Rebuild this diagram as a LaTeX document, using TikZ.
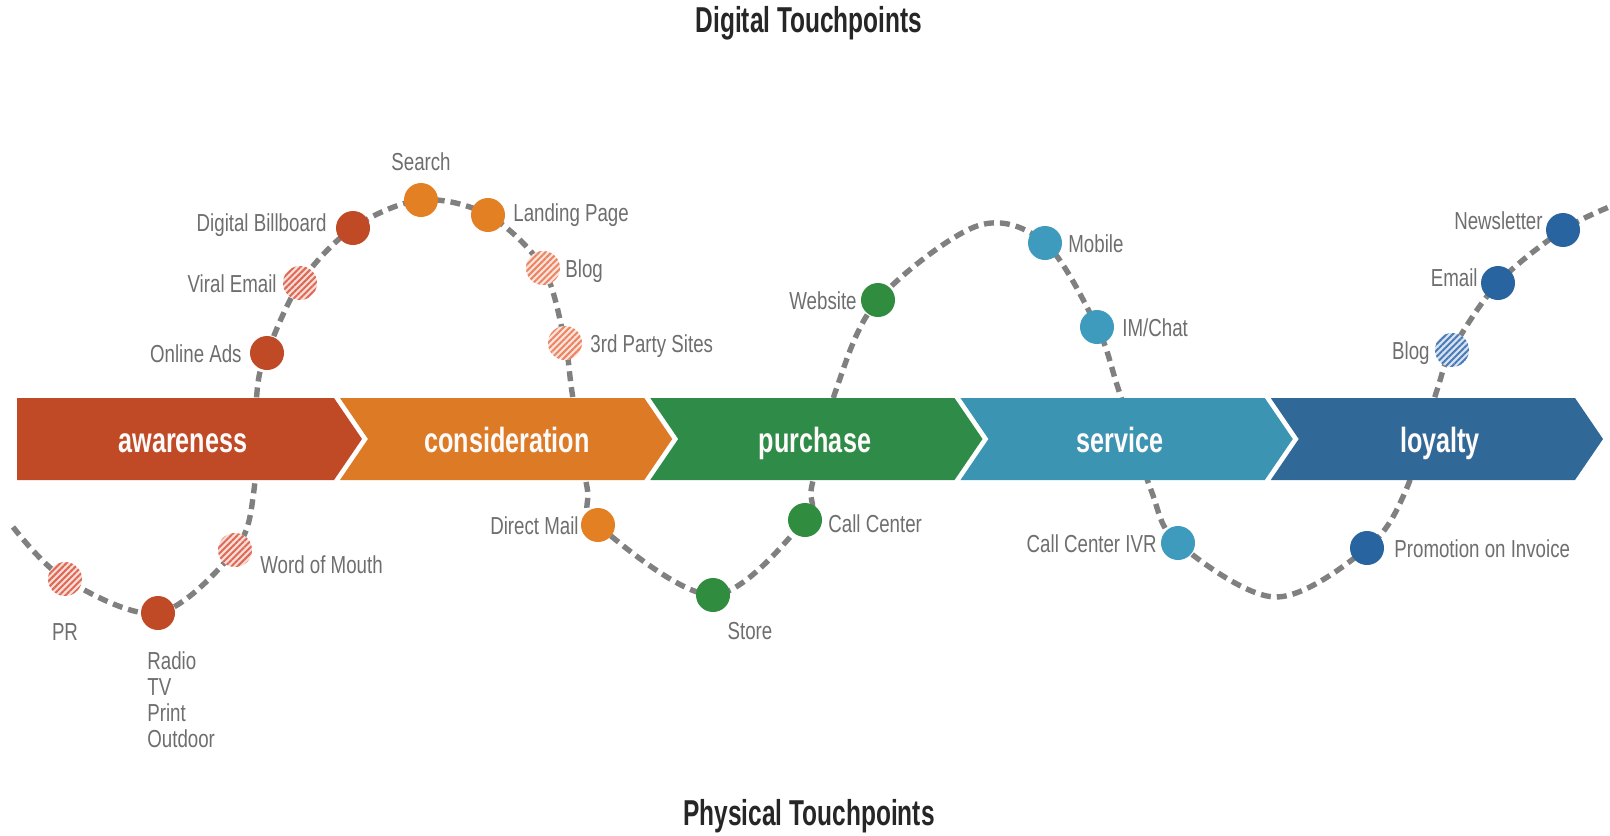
\documentclass[tikz,border=0pt]{standalone}
\usepackage{fontspec}
\setmainfont{Liberation Sans}[FakeStretch=0.76]
\newfontfamily\headfont{Liberation Sans}[FakeStretch=0.68]
\newfontfamily\stagefont{Liberation Sans}[FakeStretch=0.72]
\definecolor{Aware}{RGB}{192,74,38}
\definecolor{Consider}{RGB}{220,122,38}
\definecolor{Buy}{RGB}{46,140,72}
\definecolor{Serve}{RGB}{58,148,178}
\definecolor{Loyal}{RGB}{48,104,152}
\definecolor{DotOrange}{RGB}{228,128,36}
\definecolor{DotGreen}{RGB}{48,140,62}
\definecolor{DotTeal}{RGB}{62,155,190}
\definecolor{DotBlue}{RGB}{40,100,160}
\definecolor{HatchRed}{RGB}{222,104,84}
\definecolor{HatchOrange}{RGB}{236,132,98}
\definecolor{HatchBlue}{RGB}{72,122,184}
\definecolor{Trail}{RGB}{128,128,128}
\definecolor{Caption}{RGB}{110,110,110}
\usetikzlibrary{positioning, backgrounds, patterns.meta}

\begin{document}
\begin{tikzpicture}[x=0.5pt, y=-0.5pt,
        dot/.style={circle, fill=#1, minimum size=17pt, inner sep=0pt, outer sep=0pt},
        hatch/.style={circle, fill=#1!22, minimum size=17pt, inner sep=0pt, outer sep=0pt,
            postaction={pattern={Lines[angle=45, distance=2.2pt, line width=1pt]}, pattern color=#1}},
        caption/.style={text=Caption, font=\fontsize{12.3}{13}\selectfont, inner sep=0pt},
        lbl/.style={caption, text height=9pt, text depth=0pt},
        stage/.style={text=white!94!pink, font=\stagefont\bfseries\fontsize{17.5}{20}\selectfont, anchor=base, inner sep=0pt},
        head/.style={text=black!85, font=\headfont\bfseries\fontsize{18}{21}\selectfont},
        trail/.style={draw=Trail, line width=2.7pt, dash pattern=on 5pt off 3pt}
    ]
    \useasboundingbox (0,0) rectangle (1610,835);

    \node[head] (digital) at (809,23) {Digital Touchpoints};
    \node[head] (physical) at (809,816) {Physical Touchpoints};

    % touchpoints
    \node[hatch=HatchRed] (pr) at (65,579) {};
    \node[dot=Aware] (media) at (158,613) {};
    \node[hatch=HatchRed] (mouth) at (235,550) {};
    \node[dot=Aware] (ads) at (267,353) {};
    \node[hatch=HatchRed] (viral) at (300,283) {};
    \node[dot=Aware] (billboard) at (353,228) {};
    \node[dot=DotOrange] (search) at (421,200) {};
    \node[dot=DotOrange] (landing) at (488,215) {};
    \node[hatch=HatchOrange] (blogA) at (543,268) {};
    \node[hatch=HatchOrange] (sites) at (565,343) {};
    \node[dot=DotOrange] (mail) at (598,525) {};
    \node[dot=DotGreen] (store) at (713,595) {};
    \node[dot=DotGreen] (callc) at (805,520) {};
    \node[dot=DotGreen] (web) at (878,300) {};
    \node[dot=DotTeal] (mobile) at (1045,243) {};
    \node[dot=DotTeal] (chat) at (1097,327) {};
    \node[dot=DotTeal] (ivr) at (1178,543) {};
    \node[dot=DotBlue] (promo) at (1367,548) {};
    \node[hatch=HatchBlue] (blogB) at (1452,350) {};
    \node[dot=DotBlue] (email) at (1498,283) {};
    \node[dot=DotBlue] (news) at (1563,230) {};

    % labels
    \node[lbl, below=13pt of pr] (prL) {PR};
    \node[caption, align=left, anchor=north west] (mediaL) at (147,651) {Radio\\TV\\Print\\Outdoor};
    \node[lbl, right=4pt of mouth, yshift=-7pt] (mouthL) {Word of Mouth};
    \node[lbl, left=4pt of ads] (adsL) {Online Ads};
    \node[lbl, left=3pt of viral] (viralL) {Viral Email};
    \node[lbl, left=4.5pt of billboard, yshift=3pt] (billboardL) {Digital Billboard};
    \node[lbl, above=6pt of search] (searchL) {Search};
    \node[lbl, right=4pt of landing, yshift=1.5pt] (landingL) {Landing Page};
    \node[lbl, right=2.5pt of blogA] (blogAL) {Blog};
    \node[lbl, right=4pt of sites] (sitesL) {3rd Party Sites};
    \node[lbl, left=1pt of mail] (mailL) {Direct Mail};
    \node[lbl, below=4.5pt of store, xshift=18.5pt] (storeL) {Store};
    \node[lbl, right=3pt of callc, yshift=-1.5pt] (callcL) {Call Center};
    \node[lbl, left=2pt of web] (webL) {Website};
    \node[lbl, right=3pt of mobile] (mobileL) {Mobile};
    \node[lbl, right=4pt of chat] (chatL) {IM/Chat};
    \node[lbl, left=2pt of ivr] (ivrL) {Call Center IVR};
    \node[lbl, right=5pt of promo] (promoL) {Promotion on Invoice};
    \node[lbl, left=2.5pt of blogB] (blogBL) {Blog};
    \node[lbl, left=1.5pt of email, yshift=3pt] (emailL) {Email};
    \node[lbl, left=1.5pt of news, yshift=5pt] (newsL) {Newsletter};

    \begin{scope}[on background layer]
        % the journey line, partly hidden by the band
        \coordinate (w0) at (13,527);
        \coordinate (w1) at (254,490);
        \coordinate (w2) at (257,392);
        \coordinate (w3) at (572,392);
        \coordinate (w4) at (587,487);
        \coordinate (w5) at (812,485);
        \coordinate (w6) at (836,390);
        \coordinate (w7) at (977,226);
        \coordinate (w8) at (1118,388);
        \coordinate (w9) at (1151,490);
        \coordinate (w10) at (1275,597);
        \coordinate (w11) at (1406,490);
        \coordinate (w12) at (1437,390);
        \coordinate (w13) at (1614,205);
        \draw[trail] plot[smooth, tension=0.55] coordinates {(w0) (pr.center) (media.center) (mouth.center)
            (w1) (w2) (ads.center) (viral.center) (billboard.center) (search.center) (landing.center)
            (blogA.center) (sites.center) (w3) (w4) (mail.center) (store.center) (callc.center)
            (w5) (w6) (web.center) (w7) (mobile.center) (chat.center) (w8) (w9) (ivr.center)
            (w10) (promo.center) (w11) (w12) (blogB.center) (email.center) (news.center) (w13)};

        % stage band
        \fill[Aware] (17,398) -- (334,398) -- (362,439) -- (334,480) -- (17,480) -- cycle;
        \fill[Consider] (340,398) -- (644.25,398) -- (672.25,439) -- (644.25,480) -- (340,480) -- (368,439) -- cycle;
        \fill[Buy] (650.25,398) -- (954.5,398) -- (982.5,439) -- (954.5,480) -- (650.25,480) -- (678.25,439) -- cycle;
        \fill[Serve] (960.5,398) -- (1264.75,398) -- (1292.75,439) -- (1264.75,480) -- (960.5,480) -- (988.5,439) -- cycle;
        \fill[Loyal] (1270.75,398) -- (1575,398) -- (1603,439) -- (1575,480) -- (1270.75,480) -- (1298.75,439) -- cycle;
        \node[stage] (awareness) at (183,452) {awareness};
        \node[stage] (consideration) at (507,452) {consideration};
        \node[stage] (purchase) at (815,452) {purchase};
        \node[stage] (service) at (1120,452) {service};
        \node[stage] (loyalty) at (1440,452) {loyalty};
    \end{scope}
\end{tikzpicture}
\end{document}
